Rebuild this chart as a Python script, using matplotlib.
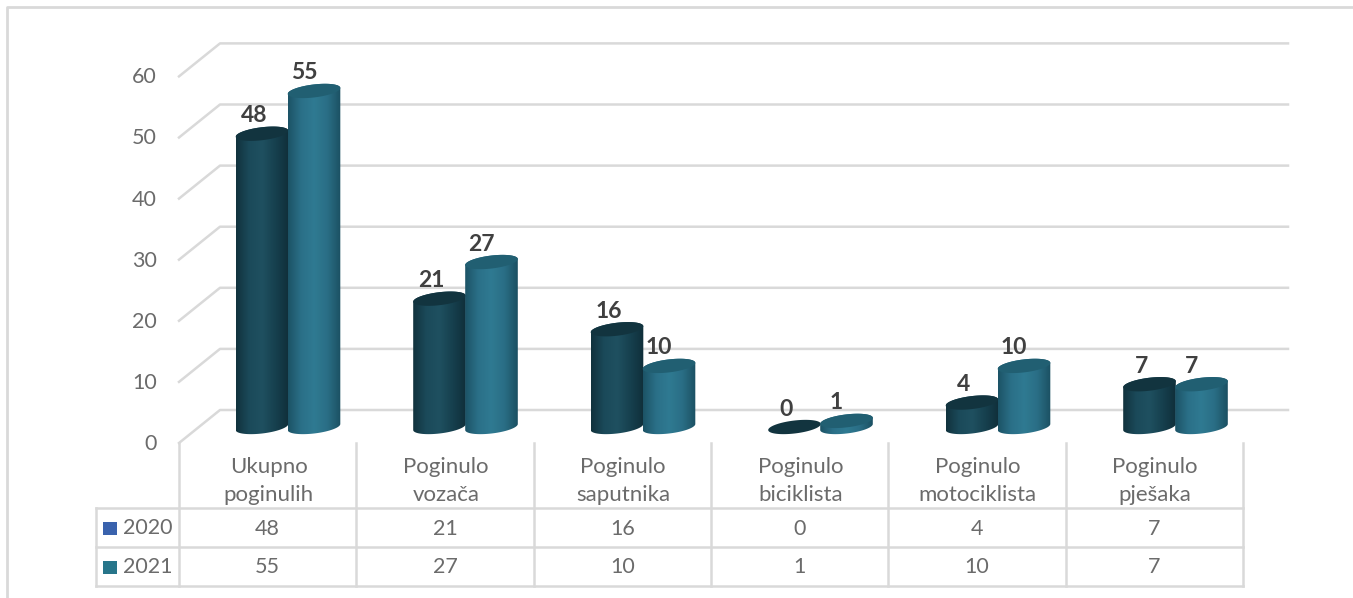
import numpy as np
import matplotlib
matplotlib.use('Agg')
import matplotlib.pyplot as plt
from matplotlib.colors import LinearSegmentedColormap
from matplotlib.patches import Polygon

plt.rcParams['font.family'] = ['Lato', 'DejaVu Sans']

categories = ['Ukupno\npoginulih', 'Poginulo\nvozača', 'Poginulo\nsaputnika',
              'Poginulo\nbiciklista', 'Poginulo\nmotociklista', 'Poginulo\npješaka']
series_names = ['2020', '2021']
values_2020 = [48, 21, 16, 0, 4, 7]
values_2021 = [55, 27, 10, 1, 10, 7]
y_ticks = [0, 10, 20, 30, 40, 50, 60]

W, H = 1353, 598
GRID = '#d9d9d9'
TXT = '#6b6b6b'

# skala: 1 kategorija = 177.5 px, 1 jedinica = 6.11 px
XS = 177.5
YS = 6.11
X0 = 288
Y0 = 427

fig = plt.figure(figsize=(W / 100, H / 100), dpi=100)

# pozadina: okvir i tablica u pikselima
bg = fig.add_axes([0, 0, 1, 1])
bg.set_xlim(0, W)
bg.set_ylim(H, 0)
bg.axis('off')
bg.plot([7, 7, W], [H, 7, 7], color=GRID, lw=2)

col_x = 179 + 177.3 * np.arange(len(categories) + 1)
row_y = [508, 547, 585.5]
for y in row_y:
    bg.plot([96, col_x[-1]], [y, y], color=GRID, lw=1.8)
bg.plot([96, 96], [row_y[0], row_y[-1]], color=GRID, lw=1.8)
for x in col_x:
    bg.plot([x, x], [443, row_y[-1]], color=GRID, lw=1.8)

for i, c in enumerate(categories):
    cx = (col_x[i] + col_x[i + 1]) / 2
    bg.text(cx + 1, 481, c, ha='center', va='center', fontsize=16, color=TXT, linespacing=1.5)
    bg.text(cx, 529, str(values_2020[i]), ha='center', va='center', fontsize=15.5, color=TXT)
    bg.text(cx, 567, str(values_2021[i]), ha='center', va='center', fontsize=15.5, color=TXT)

for name, y, col in zip(series_names, row_y[:2], ['#3a62ad', '#27758a']):
    bg.fill([103, 117, 117, 103], [y + 13.5, y + 13.5, y + 26.5, y + 26.5], color=col, lw=0)
    bg.text(123, y + 20, name, ha='left', va='center', fontsize=15.5, color=TXT)

# glavni dio: stupci u jedinicama podataka
ax = fig.add_axes([0, 0, 1, 1])
ax.patch.set_alpha(0)
ax.axis('off')
xlim = (-X0 / XS, (W - X0) / XS)
ylim = ((Y0 - H) / YS, Y0 / YS)
ax.set_xlim(xlim)
ax.set_ylim(ylim)

back_off = 17 / YS
front_off = -16 / YS
label_off = -17 / YS
left_b = (220 - X0) / XS
left_f = (179 - X0) / XS
right_b = (1288 - X0) / XS
for v in y_ticks:
    ax.plot([left_f, left_b, right_b], [v + front_off, v + back_off, v + back_off],
            color=GRID, lw=1.8, zorder=1)
    ax.text((157 - X0) / XS, v + label_off, str(v), ha='right', va='center',
            fontsize=15.5, color=TXT)

cm_dark = LinearSegmentedColormap.from_list('d', ['#11323d', '#1b4a5a', '#1f5060', '#16404e', '#102f3a'])
cm_light = LinearSegmentedColormap.from_list('l', ['#1c5366', '#2b7088', '#2f7a92', '#2a6e85', '#1b5062'])


def cylinder(xc, v, cmap, top_col, z):
    a, b, tilt = 26.3 / XS, 6.5 / YS, 3.0 / YS
    t = np.linspace(0, 2 * np.pi, 90)
    top = np.c_[xc + a * np.cos(t), v + b * np.sin(t) + tilt * np.cos(t)]
    if v > 0:
        lo = np.linspace(np.pi, 2 * np.pi, 45)
        hi = np.linspace(0, np.pi, 45)
        pts = np.r_[np.c_[xc + a * np.cos(lo), b * np.sin(lo) + tilt * np.cos(lo)],
                    np.c_[xc + a * np.cos(hi), v + b * np.sin(hi) + tilt * np.cos(hi)]]
        body = Polygon(pts, closed=True, fc='none', ec='none', transform=ax.transData)
        ax.add_patch(body)
        im = ax.imshow(np.linspace(0, 1, 128).reshape(1, -1), cmap=cmap, aspect='auto',
                       extent=(xc - a, xc + a, -b - tilt, v + b + tilt), zorder=z)
        im.set_clip_path(body)
    ax.add_patch(Polygon(top, closed=True, fc=top_col, ec='none', zorder=z + 0.1))


for i in range(len(categories)):
    cylinder(i - 26 / XS, values_2020[i], cm_dark, '#12343f', 3)
    cylinder(i + 26 / XS, values_2021[i], cm_light, '#215f72', 4)
    ax.text(i - 34 / XS, values_2020[i] + 18 / YS, str(values_2020[i]), ha='center', va='center',
            fontsize=16.5, fontweight='bold', color='#404040', zorder=6)
    ax.text(i + 16 / XS, values_2021[i] + 18 / YS, str(values_2021[i]), ha='center', va='center',
            fontsize=16.5, fontweight='bold', color='#404040', zorder=6)

ax.set_xlim(xlim)
ax.set_ylim(ylim)
fig.savefig('out.png', dpi=100, facecolor='white')
